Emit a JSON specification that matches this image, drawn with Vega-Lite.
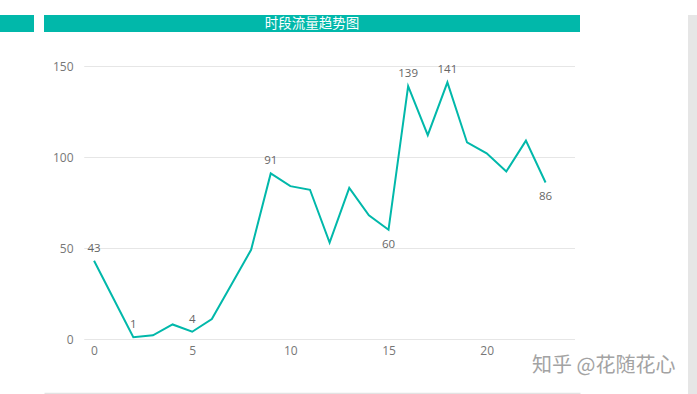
{
  "$schema": "https://vega.github.io/schema/vega-lite/v6.json",
  "padding": 0,
  "background": "white",
  "config": {"view": {"stroke": null}, "font": "Open Sans"},
  "spacing": 12,
  "hconcat": [
    {
      "title": {"text": "\u00a0", "fontSize": 10, "offset": 5, "anchor": "start", "color": "white"},
      "columns": 2,
      "align": "none",
      "bounds": "flush",
      "spacing": {"row": 34, "column": 10},
      "concat": [
        {
          "width": 34, "height": 17,
          "view": {"fill": "#01B8AA", "stroke": null},
          "data": {"values": [{}]},
          "mark": {"type": "text"},
          "encoding": {"text": {"value": ""}}
        },
        {
          "width": 536, "height": 17,
          "view": {"fill": "#01B8AA", "stroke": null},
          "data": {"values": [{"t": "时段流量趋势图"}]},
          "mark": {"type": "text", "color": "white", "font": "Noto Sans CJK SC", "fontSize": 13.5, "baseline": "middle", "align": "center"},
          "encoding": {"text": {"field": "t"}}
        },
        {
          "width": 34, "height": 10,
          "data": {"values": [{}]},
          "mark": {"type": "text"},
          "encoding": {"text": {"value": ""}}
        },
        {
          "width": 531, "height": 273,
          "title": {"text": "知乎 @花随花心", "orient": "bottom", "anchor": "end", "color": "#a3a3a3", "fontSize": 20, "font": "Noto Sans CJK SC", "fontWeight": "normal", "dx": 100, "offset": 0},
          "data": {"values": [
            {"hour": 0, "value": 43}, {"hour": 1, "value": 22}, {"hour": 2, "value": 1}, {"hour": 3, "value": 2},
            {"hour": 4, "value": 8}, {"hour": 5, "value": 4}, {"hour": 6, "value": 11}, {"hour": 7, "value": 30},
            {"hour": 8, "value": 49}, {"hour": 9, "value": 91}, {"hour": 10, "value": 84}, {"hour": 11, "value": 82},
            {"hour": 12, "value": 53}, {"hour": 13, "value": 83}, {"hour": 14, "value": 68}, {"hour": 15, "value": 60},
            {"hour": 16, "value": 139}, {"hour": 17, "value": 112}, {"hour": 18, "value": 141}, {"hour": 19, "value": 108},
            {"hour": 20, "value": 102}, {"hour": 21, "value": 92}, {"hour": 22, "value": 109}, {"hour": 23, "value": 86}
          ]},
          "layer": [
            {"data": {"values": [{"g": 0}, {"g": 50}, {"g": 100}, {"g": 150}]},
             "mark": {"type": "rule", "stroke": "#e6e6e6", "strokeWidth": 1, "yOffset": 0.5},
             "encoding": {
               "y": {"field": "g", "type": "quantitative", "scale": {"domain": [0, 150], "nice": false},
                     "axis": {"values": [0, 50, 100, 150], "grid": false, "domain": false, "ticks": false, "title": null, "offset": -40,
                              "labelColor": "#777777", "labelFontSize": 12, "labelPadding": 11, "labelFont": "Open Sans"}},
               "x": {"datum": -0.5, "type": "quantitative", "scale": {"domain": [-2.55, 24.5], "nice": false, "zero": false},
                     "axis": {"values": [0, 5, 10, 15, 20], "grid": false, "domain": false, "ticks": false, "title": null,
                              "labelColor": "#777777", "labelFontSize": 12, "labelPadding": 6, "labelFont": "Open Sans"}},
               "x2": {"datum": 24.5}
             }},
            {"mark": {"type": "line", "color": "#01B8AA", "strokeWidth": 2},
             "encoding": {"x": {"field": "hour", "type": "quantitative"}, "y": {"field": "value", "type": "quantitative"}}},
            {"transform": [{"filter": "indexof([0, 2, 5, 9, 16, 18], datum.hour) >= 0"}],
             "mark": {"type": "text", "dy": -12, "color": "#666666", "fontSize": 11.5, "font": "Open Sans"},
             "encoding": {"x": {"field": "hour", "type": "quantitative"}, "y": {"field": "value", "type": "quantitative"}, "text": {"field": "value", "type": "quantitative"}}},
            {"transform": [{"filter": "datum.hour == 15 || datum.hour == 23"}],
             "mark": {"type": "text", "dy": 15, "color": "#666666", "fontSize": 11.5, "font": "Open Sans"},
             "encoding": {"x": {"field": "hour", "type": "quantitative"}, "y": {"field": "value", "type": "quantitative"}, "text": {"field": "value", "type": "quantitative"}}}
          ]
        },
        {
          "width": 34, "height": 10,
          "data": {"values": [{}]},
          "mark": {"type": "text"},
          "encoding": {"text": {"value": ""}}
        },
        {
          "width": 536, "height": 20,
          "data": {"values": [{"v": 0}]},
          "mark": {"type": "text"},
          "encoding": {
            "text": {"value": ""},
            "x": {"field": "v", "type": "quantitative", "axis": {"domain": true, "domainColor": "#e3e3e3", "domainWidth": 1.5, "labels": false, "ticks": false, "grid": false, "title": null}}
          }
        }
      ]
    },
    {
      "width": 9, "height": 394,
      "view": {"fill": "#e6e6e6", "stroke": null},
      "data": {"values": [{}]},
      "mark": {"type": "text"},
      "encoding": {"text": {"value": ""}}
    }
  ]
}
